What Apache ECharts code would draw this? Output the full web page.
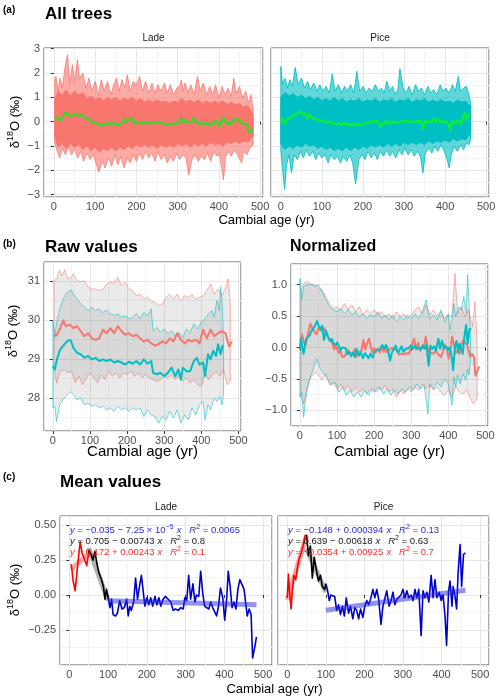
<!DOCTYPE html>
<html><head><meta charset="utf-8">
<script src="https://cdn.jsdelivr.net/npm/echarts@6/dist/echarts.min.js"></script>
<style>html,body{margin:0;padding:0;background:#fff}#c{width:500px;height:700px}</style>
</head><body><div id="c"></div>
<script>
// ---------- (a) All trees: envelope of individual series + mean ----------
const allLadeUpper = [[2,1.73],[5,1.86],[10,1.25],[15,1.79],[20,1.38],[28,2.34],[33,2.75],[38,1.52],[45,2.34],[50,1.66],[57,2.55],[62,1.79],[70,2.0],[78,1.38],[85,1.79],[92,1.25],[100,1.66],[108,1.11],[115,1.73],[122,1.25],[130,1.66],[138,1.11],[145,1.52],[152,1.79],[158,1.25],[165,1.73],[172,1.38],[178,1.93],[185,1.25],[192,1.66],[200,1.52],[208,1.86],[215,1.25],[222,1.66],[230,1.18],[238,1.59],[245,1.18],[252,1.52],[260,1.25],[268,1.59],[275,1.18],[282,1.52],[290,1.11],[298,1.38],[305,1.45],[309,1.72],[314,1.25],[318,1.59],[325,1.18],[332,1.52],[340,1.11],[348,1.86],[355,1.25],[362,1.59],[370,1.11],[378,1.45],[385,1.11],[392,1.52],[400,0.97],[408,1.45],[415,1.11],[422,1.38],[430,1.04],[436,1.79],[442,1.18],[450,1.45],[458,0.97],[465,1.25],[472,0.77],[478,1.11],[483,0.49]];
const allLadeLower = [[2,-0.88],[8,-1.22],[14,-1.49],[20,-1.08],[28,-1.36],[35,-1.01],[42,-1.36],[50,-1.15],[58,-1.49],[65,-1.22],[72,-1.63],[80,-1.29],[88,-1.56],[95,-1.36],[102,-1.70],[109,-2.08],[117,-1.63],[124,-1.90],[132,-1.49],[140,-1.84],[148,-1.36],[155,-1.77],[162,-1.42],[170,-1.90],[178,-1.49],[185,-1.70],[192,-1.36],[200,-1.63],[208,-1.29],[215,-1.56],[222,-1.22],[230,-1.49],[238,-1.29],[245,-1.63],[252,-1.22],[260,-1.56],[268,-1.36],[275,-1.70],[282,-1.42],[290,-1.63],[298,-1.29],[305,-1.56],[312,-1.36],[320,-1.49],[327,-2.20],[335,-1.56],[342,-1.36],[350,-1.63],[358,-1.42],[365,-1.56],[372,-1.29],[380,-1.63],[388,-1.22],[395,-1.42],[402,-1.36],[411,-2.40],[416,-1.49],[422,-1.22],[430,-1.42],[438,-1.15],[445,-1.36],[455,-1.70],[460,-1.22],[468,-1.36],[475,-1.08],[483,-0.95]];
const allLadeCoreUpper = [[2,0.9],[10,1.25],[20,1.1],[30,1.3],[40,1.05],[50,1.25],[60,1.1],[70,1.2],[80,0.95],[90,1.05],[100,0.9],[110,1.0],[120,0.85],[130,1.0],[140,0.9],[150,1.0],[160,0.85],[170,0.95],[180,0.9],[190,1.0],[200,0.85],[210,0.95],[220,0.8],[230,0.9],[240,0.8],[250,0.9],[260,0.8],[270,0.85],[280,0.75],[290,0.85],[300,0.8],[310,0.95],[320,0.8],[330,0.9],[340,0.8],[350,0.9],[360,0.75],[370,0.85],[380,0.75],[390,0.85],[400,0.75],[410,0.85],[420,0.7],[430,0.8],[440,0.7],[450,0.75],[460,0.6],[470,0.65],[483,0.3]];
const allLadeCoreLower = [[2,-0.6],[10,-1.05],[20,-0.9],[30,-1.1],[40,-0.9],[50,-1.05],[60,-0.95],[70,-1.15],[80,-1.0],[90,-1.2],[100,-1.05],[110,-1.25],[120,-1.1],[130,-1.2],[140,-1.05],[150,-1.2],[160,-1.05],[170,-1.15],[180,-1.0],[190,-1.1],[200,-0.95],[210,-1.05],[220,-0.95],[230,-1.05],[240,-0.95],[250,-1.1],[260,-0.95],[270,-1.05],[280,-0.95],[290,-1.05],[300,-0.9],[310,-1.0],[320,-0.9],[330,-1.05],[340,-0.9],[350,-1.0],[360,-0.9],[370,-1.0],[380,-0.85],[390,-0.95],[400,-0.9],[410,-1.0],[420,-0.85],[430,-0.9],[440,-0.8],[450,-0.9],[460,-0.8],[470,-0.85],[483,-0.6]];
const allPiceUpper = [[0,2.27],[4,1.52],[10,1.79],[16,1.38],[22,1.73],[28,1.45],[35,2.23],[42,1.52],[50,1.79],[58,1.38],[65,1.66],[72,1.32],[80,1.59],[88,1.25],[95,1.52],[102,1.25],[110,1.45],[118,1.18],[125,1.96],[132,1.25],[140,1.52],[148,1.18],[155,1.45],[162,1.25],[170,1.52],[178,1.18],[185,2.07],[192,1.25],[200,1.45],[208,1.18],[215,1.38],[222,1.25],[230,1.52],[238,1.25],[245,1.38],[252,1.18],[258,1.66],[265,1.25],[272,1.45],[278,1.11],[285,1.32],[290,2.18],[298,1.38],[305,1.18],[312,1.45],[320,1.11],[328,1.52],[335,1.25],[342,1.38],[350,1.11],[358,1.45],[365,1.18],[372,1.32],[380,1.11],[388,1.52],[395,1.25],[402,1.38],[410,1.18],[418,1.52],[425,1.25],[432,1.86],[438,1.25],[445,1.38],[452,1.45],[458,1.11],[462,0.77]];
const allPiceLower = [[0,-1.22],[4,-1.90],[9,-2.79],[14,-1.77],[20,-1.36],[26,-2.11],[32,-1.36],[40,-1.56],[48,-1.22],[55,-1.49],[62,-1.15],[70,-1.42],[78,-1.22],[85,-1.56],[92,-1.29],[100,-1.49],[108,-1.36],[115,-1.70],[122,-1.36],[130,-1.56],[138,-1.42],[145,-1.70],[152,-1.42],[160,-1.63],[168,-1.36],[175,-1.70],[182,-2.56],[190,-1.56],[198,-1.36],[205,-1.56],[212,-1.22],[220,-1.49],[228,-1.29],[235,-1.56],[242,-1.22],[250,-1.42],[258,-1.15],[265,-1.42],[272,-1.22],[280,-1.49],[288,-1.15],[295,-1.36],[302,-1.08],[310,-1.36],[318,-1.15],[325,-1.42],[332,-1.22],[340,-1.42],[346,-2.11],[352,-1.29],[360,-1.08],[368,-1.29],[375,-1.01],[382,-1.22],[390,-0.95],[398,-1.22],[405,-1.56],[410,-1.90],[415,-1.36],[422,-1.01],[430,-1.22],[438,-0.95],[445,-1.15],[452,-0.88],[458,-0.95],[462,-0.74]];
const allPiceCoreUpper = [[0,1.0],[10,1.2],[20,1.05],[30,1.15],[40,1.0],[50,1.1],[60,0.95],[70,1.05],[80,0.9],[90,1.0],[100,0.85],[110,0.95],[120,0.85],[130,1.0],[140,0.85],[150,0.95],[160,0.8],[170,0.9],[180,0.85],[190,0.95],[200,0.8],[210,0.9],[220,0.85],[230,0.95],[240,0.8],[250,0.9],[260,0.85],[270,0.95],[280,0.8],[290,0.9],[300,0.85],[310,0.95],[320,0.8],[330,0.9],[340,0.85],[350,0.95],[360,0.8],[370,0.9],[380,0.8],[390,0.9],[400,0.8],[410,0.85],[420,0.75],[430,0.9],[440,0.8],[450,0.85],[462,0.6]];
const allPiceCoreLower = [[0,-0.9],[10,-1.15],[20,-1.0],[30,-1.1],[40,-0.95],[50,-1.05],[60,-0.9],[70,-1.0],[80,-0.95],[90,-1.1],[100,-1.0],[110,-1.15],[120,-1.05],[130,-1.2],[140,-1.1],[150,-1.2],[160,-1.05],[170,-1.2],[180,-1.05],[190,-1.15],[200,-1.0],[210,-1.1],[220,-0.95],[230,-1.05],[240,-0.95],[250,-1.05],[260,-0.9],[270,-1.0],[280,-0.9],[290,-1.0],[300,-0.85],[310,-0.95],[320,-0.85],[330,-0.95],[340,-0.85],[350,-0.95],[360,-0.8],[370,-0.9],[380,-0.8],[390,-0.85],[400,-0.75],[410,-0.85],[420,-0.7],[430,-0.8],[440,-0.7],[450,-0.75],[462,-0.5]];

// ---------- mean (normalized) series, used in (a), (b right) and (c) ----------
const ladeMean = [[5,0.22],[10,0.10],[15,0.03],[23,0.25],[28,0.38],[33,0.30],[40,0.25],[45,0.21],[51,0.32],[56,0.29],[61,0.25],[66,0.31],[71,0.23],[76,0.16],[83,0.11],[88,0.06],[92,-0.03],[96,0.04],[100,-0.02],[105,-0.09],[109,-0.03],[113,-0.14],[119,-0.15],[124,-0.13],[130,-0.04],[136,-0.10],[142,-0.09],[148,-0.03],[152,-0.15],[156,-0.08],[160,-0.11],[166,-0.05],[171,0.12],[176,-0.03],[181,0.06],[186,0.14],[191,0.15],[195,-0.08],[200,-0.02],[205,-0.07],[210,-0.02],[215,-0.08],[221,-0.01],[226,-0.07],[231,-0.02],[236,-0.08],[242,-0.03],[248,-0.01],[255,-0.03],[262,-0.05],[268,-0.11],[274,-0.10],[281,-0.11],[288,-0.09],[294,-0.10],[298,-0.02],[303,-0.04],[308,0.14],[313,-0.03],[319,0.08],[324,-0.05],[328,0.00],[334,-0.01],[339,0.17],[344,0.02],[349,-0.08],[354,-0.07],[360,-0.10],[365,-0.05],[370,-0.09],[375,-0.08],[380,-0.15],[385,-0.08],[390,0.05],[396,-0.02],[401,-0.18],[406,-0.03],[410,0.17],[415,0.06],[420,-0.09],[425,-0.05],[430,-0.10],[435,0.04],[440,0.11],[445,0.10],[451,0.04],[456,-0.08],[459,-0.15],[464,-0.10],[469,-0.14],[473,-0.45],[478,-0.38],[483,-0.30]];
const piceMean = [[0,-0.02],[3,0.15],[6,0.02],[10,-0.10],[13,0.02],[17,0.14],[22,0.11],[26,0.19],[30,0.25],[36,0.30],[41,0.35],[46,0.42],[50,0.43],[55,0.28],[60,0.35],[65,0.12],[70,0.27],[76,0.17],[81,0.10],[86,0.14],[91,0.06],[97,0.04],[100,0.08],[104,0.04],[109,-0.04],[113,0.00],[117,-0.01],[123,-0.01],[128,-0.11],[133,-0.07],[138,-0.14],[143,-0.08],[148,-0.15],[153,-0.02],[159,-0.13],[164,-0.08],[170,-0.17],[175,-0.09],[180,-0.11],[185,-0.17],[190,-0.10],[196,-0.16],[201,-0.08],[206,-0.04],[211,-0.07],[216,-0.03],[222,0.04],[227,-0.02],[232,0.04],[237,-0.03],[243,-0.21],[248,-0.08],[253,-0.07],[258,0.03],[264,-0.08],[269,-0.04],[274,0.02],[279,-0.07],[284,-0.03],[289,-0.04],[295,0.00],[300,0.04],[305,-0.02],[310,0.03],[315,-0.02],[321,0.00],[326,-0.04],[331,0.04],[336,-0.02],[341,0.04],[347,-0.29],[352,0.03],[357,-0.02],[362,0.02],[367,-0.05],[373,0.14],[378,-0.02],[383,0.11],[388,-0.02],[394,0.02],[399,-0.04],[404,0.00],[409,-0.15],[413,-0.36],[418,0.02],[422,0.10],[427,-0.08],[430,0.06],[435,-0.01],[439,-0.10],[443,0.16],[448,0.36],[452,0.06],[457,0.29],[462,0.30]];

// ---------- (b) Raw values ----------
const rawLadeMean = [[3,29.62],[10,29.60],[20,29.79],[28,29.99],[35,29.84],[45,29.88],[55,29.79],[65,29.84],[75,29.71],[85,29.58],[95,29.66],[105,29.53],[115,29.49],[125,29.53],[135,29.75],[145,29.66],[155,29.79],[165,29.66],[175,29.84],[185,29.71],[195,29.62],[205,29.66],[215,29.58],[225,29.62],[235,29.53],[245,29.45],[255,29.49],[265,29.40],[275,29.34],[285,29.38],[295,29.45],[305,29.40],[315,29.53],[325,29.45],[335,29.66],[345,29.49],[355,29.40],[365,29.49],[375,29.45],[385,29.49],[395,29.40],[405,29.75],[415,29.53],[425,29.75],[435,29.58],[445,29.66],[455,29.71],[465,29.66],[475,29.32],[482,29.45]];
const rawLadeUpper = [[3,31.0],[10,31.05],[18,31.27],[25,31.13],[32,31.28],[40,31.05],[50,31.09],[55,31.18],[65,31.0],[75,30.97],[85,31.0],[95,30.84],[105,30.79],[115,30.79],[125,30.75],[135,30.79],[145,30.92],[155,30.97],[165,30.94],[175,31.09],[185,30.88],[195,30.97],[205,30.79],[215,30.75],[225,30.62],[235,30.66],[245,30.53],[255,30.58],[265,30.49],[275,30.45],[285,30.36],[295,30.40],[305,30.58],[315,30.66],[325,30.53],[335,30.66],[345,30.49],[355,30.62],[365,30.58],[375,30.66],[385,30.53],[395,30.58],[405,30.62],[415,30.75],[425,30.92],[435,30.66],[445,30.79],[455,30.62],[465,30.79],[472,31.05],[478,30.49]];
const rawLadeLower = [[3,28.78],[10,28.39],[20,28.69],[30,28.73],[40,28.65],[50,28.69],[60,28.39],[70,28.56],[80,28.34],[90,28.52],[100,28.65],[110,28.52],[120,28.39],[130,28.60],[140,28.47],[150,28.69],[160,28.56],[170,28.65],[180,28.52],[190,28.65],[200,28.60],[210,28.69],[220,28.56],[230,28.65],[240,28.52],[250,28.60],[260,28.52],[270,28.47],[280,28.43],[290,28.47],[300,28.56],[310,28.52],[320,28.60],[330,28.47],[340,28.56],[350,28.43],[360,28.52],[370,28.39],[380,28.47],[390,28.34],[400,28.30],[410,28.65],[420,28.47],[430,28.60],[440,28.69],[450,28.56],[460,28.73],[470,28.34],[478,28.43]];
const rawPiceMean = [[0,28.82],[5,28.73],[12,29.03],[20,29.25],[30,29.36],[40,29.47],[48,29.48],[55,29.29],[65,29.16],[75,29.12],[85,29.03],[95,29.08],[105,28.99],[115,29.03],[125,28.95],[135,28.99],[145,28.95],[155,28.99],[165,28.91],[175,28.95],[185,28.91],[195,28.86],[205,28.93],[215,28.88],[225,28.95],[235,28.86],[245,28.99],[255,28.88],[265,28.95],[270,28.65],[280,28.61],[290,28.65],[300,28.56],[310,28.65],[320,28.78],[330,28.56],[338,28.73],[345,28.47],[350,28.78],[360,28.69],[370,28.69],[380,28.95],[388,29.03],[395,28.86],[405,28.91],[410,28.56],[418,29.12],[425,28.99],[432,29.21],[440,29.08],[445,29.38],[452,29.12],[458,29.36]];
const rawPiceUpper = [[0,29.98],[5,29.55],[10,29.94],[20,30.33],[30,30.59],[40,30.72],[50,30.76],[55,30.67],[65,30.54],[75,30.41],[85,30.33],[95,30.24],[105,30.33],[115,30.24],[125,30.28],[135,30.19],[145,30.24],[155,30.16],[165,30.11],[175,30.16],[185,30.07],[195,30.11],[205,30.03],[215,30.07],[225,30.16],[235,30.03],[245,30.19],[255,30.11],[265,30.28],[270,29.72],[280,29.81],[290,29.68],[300,29.77],[310,29.64],[320,29.72],[330,29.59],[340,29.68],[350,29.55],[360,29.77],[370,29.68],[380,29.90],[390,29.77],[400,29.94],[410,30.03],[420,30.16],[428,30.24],[435,30.07],[442,30.50],[448,30.24],[452,30.84],[456,30.50],[460,29.38]];
const rawPiceLower = [[0,27.75],[5,27.79],[10,27.40],[18,27.83],[30,28.0],[40,28.09],[48,28.17],[55,28.09],[65,27.96],[75,28.0],[85,27.83],[95,27.87],[105,27.79],[115,27.83],[125,27.75],[135,27.79],[145,27.70],[155,27.75],[165,27.66],[175,27.79],[185,27.70],[195,27.75],[205,27.66],[215,27.75],[225,27.70],[235,27.75],[245,27.53],[255,27.70],[265,27.57],[275,27.53],[285,27.36],[295,27.53],[305,27.44],[315,27.66],[325,27.49],[335,27.70],[345,27.36],[355,27.57],[365,27.44],[375,27.75],[385,27.57],[395,27.83],[405,27.91],[410,27.44],[418,27.83],[425,27.70],[435,28.0],[442,27.91],[450,28.04],[456,27.83],[460,28.09]];

// ---------- (b) Normalized envelopes ----------
const normLadeUpper = [[3,0.92],[10,1.02],[20,1.05],[30,1.0],[40,1.01],[50,0.94],[60,0.92],[70,0.81],[80,0.70],[90,0.62],[100,0.65],[110,0.60],[120,0.70],[130,0.60],[140,0.68],[150,0.57],[160,0.65],[170,0.52],[180,0.60],[190,0.54],[200,0.60],[210,0.52],[220,0.57],[230,0.49],[240,0.54],[250,0.46],[260,0.57],[270,0.49],[280,0.54],[290,0.46],[300,0.52],[310,0.60],[320,0.65],[330,0.54],[340,0.68],[350,0.52],[360,0.60],[370,0.49],[380,0.57],[390,0.46],[400,0.54],[410,0.49],[418,1.18],[425,0.54],[435,0.65],[445,0.49],[455,0.60],[465,0.33],[472,0.73],[478,0.01]];
const normLadeLower = [[3,-0.79],[10,-0.90],[20,-0.63],[30,-0.47],[40,-0.39],[50,-0.44],[60,-0.52],[70,-0.42],[80,-0.60],[90,-0.55],[100,-0.66],[110,-0.58],[120,-0.68],[130,-0.60],[140,-0.71],[150,-0.63],[160,-0.71],[170,-0.66],[180,-0.74],[190,-0.66],[200,-0.71],[210,-0.63],[220,-0.68],[230,-0.60],[240,-0.71],[250,-0.66],[260,-0.79],[270,-0.68],[280,-0.74],[290,-0.66],[300,-0.71],[310,-0.63],[320,-0.68],[330,-0.58],[340,-0.66],[350,-0.60],[360,-0.68],[370,-0.63],[380,-0.71],[390,-0.76],[400,-0.68],[410,-0.79],[420,-0.63],[430,-0.71],[440,-0.74],[450,-0.68],[460,-0.82],[468,-0.90],[475,-0.84],[478,-0.79]];
const normPiceUpper = [[0,1.10],[5,0.76],[10,0.97],[20,1.0],[30,1.01],[40,0.97],[50,1.0],[60,0.89],[70,0.76],[80,0.65],[90,0.60],[100,0.57],[110,0.62],[120,0.54],[130,0.60],[140,0.52],[150,0.57],[160,0.49],[170,0.54],[180,0.46],[190,0.52],[200,0.49],[210,0.57],[220,0.46],[230,0.52],[240,0.44],[250,0.52],[260,0.41],[270,0.49],[280,0.44],[290,0.52],[300,0.46],[310,0.54],[320,0.46],[330,0.57],[340,0.76],[350,0.46],[360,0.52],[370,0.44],[380,0.60],[390,0.41],[400,0.52],[405,0.28],[410,0.46],[415,0.70],[420,0.49],[428,0.65],[435,0.60],[442,0.81],[448,0.54],[452,1.16],[456,0.70],[460,0.06]];
const normPiceLower = [[0,-0.79],[5,-0.71],[10,-1.11],[15,-0.84],[25,-0.52],[35,-0.36],[45,-0.18],[55,-0.34],[65,-0.42],[75,-0.50],[85,-0.60],[95,-0.55],[105,-0.71],[115,-0.63],[125,-0.76],[135,-0.68],[145,-0.79],[155,-0.71],[165,-0.79],[175,-0.68],[185,-0.76],[195,-0.66],[205,-0.71],[215,-0.63],[225,-0.74],[235,-0.66],[245,-0.76],[255,-0.68],[265,-0.74],[275,-0.66],[285,-0.71],[295,-0.63],[305,-0.68],[315,-0.58],[325,-0.66],[335,-0.60],[345,-1.06],[350,-0.58],[360,-0.66],[370,-0.55],[380,-0.63],[390,-0.50],[400,-0.58],[410,-0.92],[415,-0.47],[420,-0.63],[425,-0.44],[432,-0.58],[440,-0.42],[447,-0.52],[452,-0.34],[456,-0.44],[460,-0.20]];

// ---------- (c) regression fit end points ----------
const ladeFitRed = [[5,0.184],[50,0.294]];
const ladeFitBlack = [[50,0.334],[100,-0.038]];
const ladeFitBlue = [[100,-0.042],[483,-0.070]];
const piceFitRed = [[0,-0.035],[50,0.427]];
const piceFitBlack = [[50,0.330],[100,0.021]];
const piceFitBlue = [[100,-0.109],[462,0.034]];

// ---------- labels ----------
const facetNames = ['Lade', 'Pice'];
const panelTags = ['(a)', '(b)', '(c)'];
const panelTitles = ['All trees', 'Raw values', 'Normalized', 'Mean values'];
const xName = 'Cambial age (yr)';
const eqLade = ['y = −0.035 − 7.25 × 10^−5 x   R² = 0.0065', 'y = 0.705 − 0.00743 x   R² = 0.8', 'y = 0.172 + 0.00243 x   R² = 0.1'];
const eqPice = ['y = −0.148 + 0.000394 x   R² = 0.13', 'y = 0.639 − 0.00618 x   R² = 0.63', 'y = −0.0354 + 0.00925 x   R² = 0.7'];

// =====================================================================
const FONT = '"Liberation Sans", Arial, Helvetica, sans-serif';
const LADE = '#F8766D', PICE = '#00BFC4';
const minus = s => String(s).replace('-', '−');

function xAx(gi, min, max, fs) {
  return {type:'value', gridIndex:gi, min, max, splitNumber:5,
    axisLine:{show:false}, axisTick:{show:true, length:3, lineStyle:{color:'#333', width:1}},
    axisLabel:{color:'#4d4d4d', fontSize:fs, fontFamily:FONT, margin:4, showMinLabel:false, showMaxLabel:false, formatter:v=>minus(v)},
    splitLine:{show:true, lineStyle:{color:'#e6e6e6', width:1}},
    minorTick:{show:false, splitNumber:2}, minorSplitLine:{show:true, lineStyle:{color:'#f3f3f3', width:1}}};
}
function yAx(gi, min, max, opts) {
  const o = {type:'value', gridIndex:gi, min, max,
    axisLine:{show:false}, axisTick:{show:opts.show, length:3, lineStyle:{color:'#333', width:1}},
    axisLabel:{show:opts.show, color:'#4d4d4d', fontSize:opts.fs, fontFamily:FONT, margin:4, showMinLabel:false, showMaxLabel:false,
      formatter: v => minus(opts.dec != null ? v.toFixed(opts.dec) : v)},
    splitLine:{show:true, lineStyle:{color:'#e6e6e6', width:1}},
    minorTick:{show:false, splitNumber:2}, minorSplitLine:{show:true, lineStyle:{color:'#f3f3f3', width:1}}};
  if (opts.interval) o.interval = opts.interval; else o.splitNumber = opts.split;
  return o;
}
function poly(gi, upper, lower, fill, stroke, lw, z) {
  return {type:'custom', xAxisIndex:gi, yAxisIndex:gi, data:[upper[0]], silent:true, z, clip:true,
    renderItem:(params, api) => {
      const pts = upper.map(p => api.coord(p)).concat(lower.slice().reverse().map(p => api.coord(p)));
      return {type:'polygon', shape:{points:pts}, style:{fill, stroke, lineWidth:lw}};
    }};
}
function line(gi, data, color, width, z) {
  return {type:'line', xAxisIndex:gi, yAxisIndex:gi, data, symbol:'none', showSymbol:false, silent:true, z,
    lineStyle:{color, width, cap:'butt', join:'round'}, itemStyle:{color}};
}
const seg = (arr, a, b) => arr.filter(p => p[0] >= a && p[0] <= b);

const grids = [
  {left:44, top:48, width:219, height:149},
  {left:271, top:48, width:218, height:149},
  {left:44, top:262, width:197, height:169},
  {left:291, top:264, width:197, height:162},
  {left:60, top:516, width:212, height:149},
  {left:278, top:516, width:211, height:149}
].map(g => Object.assign(g, {show:true, borderColor:'#555', borderWidth:1, backgroundColor:'#fff'}));

const xAxes = [xAx(0,-24,507,11), xAx(1,-24,507,11), xAx(2,-24,507,11), xAx(3,-24,507,11), xAx(4,-24,523,11), xAx(5,-24,523,11)];
const yAxes = [
  yAx(0,-3.1,3.03,{split:6, fs:11, show:true}),
  yAx(1,-3.1,3.03,{split:6, fs:11, show:false}),
  yAx(2,27.16,31.48,{split:4, fs:11, show:true}),
  yAx(3,-1.25,1.33,{split:5, fs:11, show:true, dec:1}),
  yAx(4,-0.5,0.564,{interval:0.25, fs:11, show:true, dec:2}),
  yAx(5,-0.5,0.564,{interval:0.25, fs:11, show:false, dec:2})
];

const ladeA = 'rgba(248,118,109,0.62)', piceA = 'rgba(0,191,196,0.62)';
const ribbonFill = 'rgba(127,127,127,0.16)';
const series = [
  // (a)
  poly(0, allLadeUpper, allLadeLower, ladeA, 'rgba(248,118,109,0.75)', 1, 1),
  poly(0, allLadeCoreUpper, allLadeCoreLower, LADE, LADE, 1, 2),
  line(0, ladeMean, 'rgba(40,225,40,0.85)', 2.5, 5),
  poly(1, allPiceUpper, allPiceLower, piceA, 'rgba(0,191,196,0.85)', 1, 1),
  poly(1, allPiceCoreUpper, allPiceCoreLower, PICE, PICE, 1, 2),
  line(1, piceMean, 'rgba(20,240,40,0.85)', 2.5, 5),
  // (b) raw
  poly(2, rawLadeUpper, rawLadeLower, ribbonFill, 'rgba(248,118,109,0.55)', 1, 1),
  poly(2, rawPiceUpper, rawPiceLower, ribbonFill, 'rgba(0,191,196,0.55)', 1, 1),
  line(2, rawLadeMean, LADE, 2, 5),
  line(2, rawPiceMean, PICE, 2, 5),
  // (b) normalized
  poly(3, normLadeUpper, normLadeLower, ribbonFill, 'rgba(248,118,109,0.55)', 1, 1),
  poly(3, normPiceUpper, normPiceLower, ribbonFill, 'rgba(0,191,196,0.55)', 1, 1),
  line(3, ladeMean, LADE, 2, 5),
  line(3, piceMean, PICE, 2, 6),
  // (c) Lade
  line(4, seg(ladeMean, 0, 51), '#ff0000', 1.6, 5),
  line(4, seg(ladeMean, 50, 100), '#000000', 1.6, 5),
  line(4, seg(ladeMean, 100, 500), '#0000cd', 1.6, 5),
  line(4, ladeFitRed, 'rgba(255,0,0,0.35)', 5, 6),
  line(4, ladeFitBlack, 'rgba(0,0,0,0.3)', 5, 6),
  line(4, ladeFitBlue, 'rgba(40,40,220,0.5)', 5, 6),
  // (c) Pice
  line(5, seg(piceMean, 0, 50), '#ff0000', 1.6, 5),
  line(5, seg(piceMean, 50, 100), '#000000', 1.6, 5),
  line(5, seg(piceMean, 100, 500), '#0000cd', 1.6, 5),
  line(5, piceFitRed, 'rgba(255,0,0,0.35)', 5, 6),
  line(5, piceFitBlack, 'rgba(0,0,0,0.3)', 5, 6),
  line(5, piceFitBlue, 'rgba(40,40,220,0.5)', 5, 6)
];

// ---- text helpers ----
function txt(x, y, text, o = {}) {
  const st = {text, fill:o.fill || '#000', fontSize:o.size || 11, fontFamily:FONT, fontWeight:o.weight || 'normal',
    align:o.align || 'left', textAlign:o.align || 'left', verticalAlign:'middle', textVerticalAlign:'middle'};
  if (o.rich) st.rich = o.rich;
  return {type:'text', x, y, rotation:o.rot || 0, silent:true, z:100, style:st};
}
function deltaName(x, y, size) {
  return txt(x, y, '{n|δ}{s|18}{n|O (‰)}', {rot:Math.PI / 2, align:'center', size,
    rich:{n:{fontSize:size, fontFamily:FONT, fill:'#000', lineHeight:size + 5},
          s:{fontSize:Math.round(size * 0.68), fontFamily:FONT, fill:'#000', verticalAlign:'top', lineHeight:Math.round(size * 0.68)}}});
}
function eqRich(color) {
  const fs = 9.5;
  return {n:{fill:color, fontSize:fs, fontFamily:FONT, lineHeight:12},
          i:{fill:color, fontSize:fs, fontFamily:FONT, fontStyle:'italic', lineHeight:12},
          s:{fill:color, fontSize:7, fontFamily:FONT, verticalAlign:'top', lineHeight:7}};
}
function eqText(x, y, s, color) {
  let t = s.replace(/^y/, '{i|y}{n|').replace(/ x /, '} {i|x}{n| ').replace(/R²/, '}{i|R}{s|2}{n|');
  t = t.replace(/\^(−\d)/, '}{s|$1}{n|');
  t = t + '}';
  return txt(x, y, t, {rich:eqRich(color)});
}

const EQC = ['#2a2ad8', '#1a1a1a', '#ff2a2a'];
const graphics = [
  txt(3, 10, panelTags[0], {weight:'bold', size:10}),
  txt(45, 14, panelTitles[0], {weight:'bold', size:17}),
  txt(153.5, 38, facetNames[0], {align:'center', size:10, fill:'#1a1a1a'}),
  txt(380, 38, facetNames[1], {align:'center', size:10, fill:'#1a1a1a'}),
  txt(266.5, 220, xName, {align:'center', size:13}),
  deltaName(15, 122, 13),

  txt(3, 244, panelTags[1], {weight:'bold', size:10}),
  txt(45, 247, panelTitles[1], {weight:'bold', size:17}),
  txt(290, 247, panelTitles[2], {weight:'bold', size:16}),
  deltaName(13, 331, 13),
  txt(142.5, 452, xName, {align:'center', size:15}),
  txt(389.5, 452, xName, {align:'center', size:15}),

  txt(3, 477, panelTags[2], {weight:'bold', size:10}),
  txt(60, 482, panelTitles[3], {weight:'bold', size:17}),
  txt(166, 507, facetNames[0], {align:'center', size:10, fill:'#1a1a1a'}),
  txt(383.5, 507, facetNames[1], {align:'center', size:10, fill:'#1a1a1a'}),
  txt(274.5, 689, xName, {align:'center', size:13}),
  deltaName(15, 590, 13)
];
eqLade.forEach((s, i) => graphics.push(eqText(70, 530 + i * 11, s, EQC[i])));
eqPice.forEach((s, i) => graphics.push(eqText(288, 530 + i * 11, s, EQC[i])));

const chart = echarts.init(document.getElementById('c'), null, {renderer:'canvas'});
chart.setOption({
  animation:false, backgroundColor:'#fff',
  grid:grids, xAxis:xAxes, yAxis:yAxes, series, graphic:graphics
});
</script></body></html>
